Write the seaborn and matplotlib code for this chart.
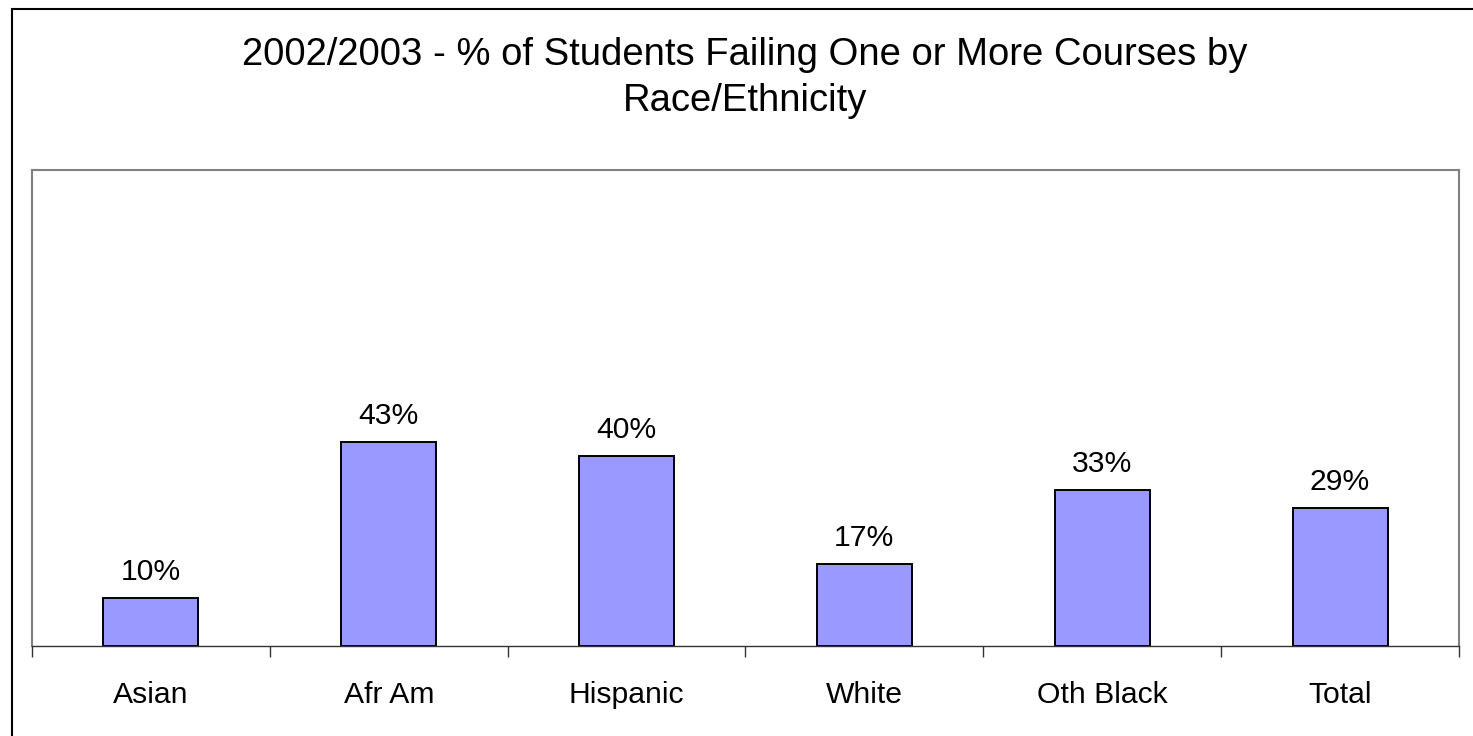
import numpy as np
import pandas as pd
import matplotlib
matplotlib.use("Agg")
import matplotlib.pyplot as plt
import matplotlib.patches as patches
import seaborn as sns

# Chart data
groups = ["Asian", "Afr Am", "Hispanic", "White", "Oth Black", "Total"]
pct_failing = [0.101, 0.429, 0.399, 0.172, 0.328, 0.290]
title = "2002/2003 - % of Students Failing One or More Courses by\nRace/Ethnicity"

df = pd.DataFrame({"group": groups, "pct": pct_failing})

sns.set_style("white")
plt.rcParams["font.family"] = ["Liberation Sans", "DejaVu Sans"]
plt.rcParams["text.color"] = "black"
plt.rcParams["xtick.color"] = "black"

fig = plt.figure(figsize=(14.73, 7.36), dpi=100)
ax = fig.add_axes([32 / 1473, 1 - 646 / 736, (1459 - 32) / 1473, (646 - 170) / 736])

sns.barplot(data=df, x="group", y="pct", color="#9999FF", saturation=1,
            width=0.4, edgecolor="black", linewidth=1.4, ax=ax)

# value labels above bars
for i, v in enumerate(pct_failing):
    ax.annotate(f"{v:.0%}", (i, v), xytext=(0, 13), textcoords="offset points",
                ha="center", va="baseline", fontsize=21.7, color="black")

ax.set_ylim(0, 1)
ax.set_xlim(-0.5, len(groups) - 0.5)
ax.set_xlabel("")
ax.set_ylabel("")
ax.set_yticks([])

# category labels centred, tick marks on the category boundaries
ax.set_xticks(range(len(groups)))
ax.set_xticklabels(groups, fontsize=21.7, color="black")
ax.tick_params(axis="x", which="major", length=0, pad=25.5)
ax.set_xticks(np.arange(-0.5, len(groups), 1.0), minor=True)
ax.tick_params(axis="x", which="minor", length=8, width=1, color="#333333",
               direction="out", bottom=True)

for side in ["top", "right", "left"]:
    ax.spines[side].set_color("#808080")
    ax.spines[side].set_linewidth(1.5)
ax.spines["bottom"].set_color("#333333")
ax.spines["bottom"].set_linewidth(1)

fig.text(745 / 1473, 1 - 37 / 736, title, ha="center", va="top",
         fontsize=27.5, linespacing=1.34, color="black")

# outer chart border (only left and top edges are visible in the picture)
border = patches.Rectangle((11.5 / 1473, -0.1), 1.2, 0.1 + (736 - 8.5) / 736,
                           transform=fig.transFigure, fill=False,
                           edgecolor="black", linewidth=1.5)
fig.patches.append(border)

fig.savefig("out.png", dpi=100, facecolor="white")
